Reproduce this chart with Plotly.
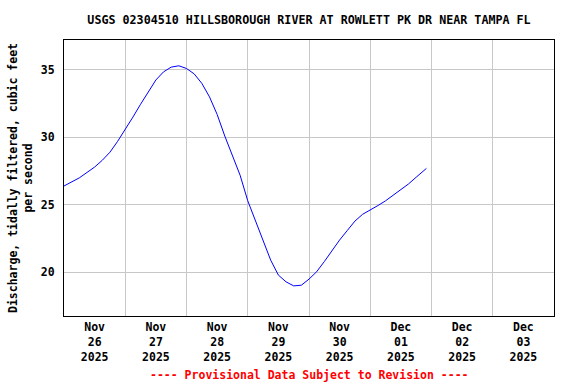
import plotly.graph_objects as go

# Time stamps (every 3 hours from 2025-11-26 00:00) and discharge values
times = [
    "2025-11-26 00:00", "2025-11-26 03:00", "2025-11-26 06:00", "2025-11-26 09:00",
    "2025-11-26 12:00", "2025-11-26 15:00", "2025-11-26 18:00", "2025-11-26 21:00",
    "2025-11-27 00:00", "2025-11-27 03:00", "2025-11-27 06:00", "2025-11-27 09:00",
    "2025-11-27 12:00", "2025-11-27 15:00", "2025-11-27 18:00", "2025-11-27 21:00",
    "2025-11-28 00:00", "2025-11-28 03:00", "2025-11-28 06:00", "2025-11-28 09:00",
    "2025-11-28 12:00", "2025-11-28 15:00", "2025-11-28 18:00", "2025-11-28 21:00",
    "2025-11-29 00:00", "2025-11-29 03:00", "2025-11-29 06:00", "2025-11-29 09:00",
    "2025-11-29 12:00", "2025-11-29 15:00", "2025-11-29 18:00", "2025-11-29 21:00",
    "2025-11-30 00:00", "2025-11-30 03:00", "2025-11-30 06:00", "2025-11-30 09:00",
    "2025-11-30 12:00", "2025-11-30 15:00", "2025-11-30 18:00", "2025-11-30 21:00",
    "2025-12-01 00:00", "2025-12-01 03:00", "2025-12-01 06:00", "2025-12-01 09:00",
    "2025-12-01 12:00", "2025-12-01 15:00", "2025-12-01 18:00", "2025-12-01 21:00",
    "2025-12-01 22:00",
]
discharge = [
    26.4, 26.7, 27.0, 27.4,
    27.8, 28.3, 28.9, 29.7,
    30.55, 31.5, 32.45, 33.4,
    34.25, 34.85, 35.2, 35.3,
    35.1, 34.7, 34.0, 33.0,
    31.7, 30.1, 28.7, 27.2,
    25.3, 23.8, 22.4, 20.9,
    19.8, 19.3, 19.0, 19.05,
    19.5, 20.05, 20.8, 21.6,
    22.4, 23.1, 23.8, 24.3,
    24.6, 24.95, 25.3, 25.7,
    26.1, 26.55, 27.05, 27.55,
    27.7,
]

day_grid = ["2025-11-26", "2025-11-27", "2025-11-28", "2025-11-29", "2025-11-30",
            "2025-12-01", "2025-12-02", "2025-12-03", "2025-12-04"]
label_pos = ["2025-11-26 12:00", "2025-11-27 12:00", "2025-11-28 12:00", "2025-11-29 12:00",
             "2025-11-30 12:00", "2025-12-01 12:00", "2025-12-02 12:00", "2025-12-03 12:00"]
label_text = ["Nov<br>26<br>2025", "Nov<br>27<br>2025", "Nov<br>28<br>2025", "Nov<br>29<br>2025",
              "Nov<br>30<br>2025", "Dec<br>01<br>2025", "Dec<br>02<br>2025", "Dec<br>03<br>2025"]
y_ticks = [20, 25, 30, 35]

FONT = "DejaVu Sans Mono"
FS = 11.5

fig = go.Figure()
fig.add_trace(go.Scatter(x=times, y=discharge, mode="lines",
                         line=dict(color="#0000ff", width=1), showlegend=False,
                         hoverinfo="skip"))

fig.update_layout(
    width=576, height=384,
    margin=dict(l=64, r=22, t=40, b=68),
    paper_bgcolor="white", plot_bgcolor="white",
    font=dict(family=FONT, size=FS, color="black", weight="bold"),
    title=dict(text="USGS 02304510 HILLSBOROUGH RIVER AT ROWLETT PK DR NEAR TAMPA FL",
               x=(64 + 554) / 2 / 576, xanchor="center",
               y=1 - 20 / 384, yanchor="middle",
               font=dict(family=FONT, size=11.7, color="black", weight="bold")),
    xaxis=dict(
        type="date", range=["2025-11-26", "2025-12-04"],
        tickmode="array", tickvals=label_pos, ticktext=label_text,
        showgrid=False, ticks="", zeroline=False,
        showline=True, linecolor="black", linewidth=1, mirror=True,
        minor=dict(tickmode="array", tickvals=day_grid, showgrid=True,
                   gridcolor="#c8c8c8", gridwidth=1, ticks=""),
        tickfont=dict(family=FONT, size=FS, color="black", weight="bold"),
    ),
    yaxis=dict(
        range=[16.77, 37.21], tickmode="array", tickvals=y_ticks,
        showgrid=True, gridcolor="#c8c8c8", gridwidth=1, ticks="", zeroline=False,
        showline=True, linecolor="black", linewidth=1, mirror=True,
        tickfont=dict(family=FONT, size=FS, color="black", weight="bold"),
        ticklabelstandoff=6,
    ),
    annotations=[
        dict(text="Discharge, tidally filtered, cubic feet<br>per second",
             xref="paper", yref="paper", x=0, y=0.5, xanchor="center", yanchor="middle",
             xshift=-44, textangle=-90, showarrow=False,
             font=dict(family=FONT, size=FS, color="black", weight="bold")),
        dict(text="---- Provisional Data Subject to Revision ----",
             xref="paper", yref="paper", x=0.5, y=-59 / 276, xanchor="center", yanchor="middle",
             showarrow=False,
             font=dict(family=FONT, size=FS, color="red", weight="bold")),
    ],
)

fig.write_html("out.html", config={"displayModeBar": False},
               post_script="document.body.style.margin='0';")
